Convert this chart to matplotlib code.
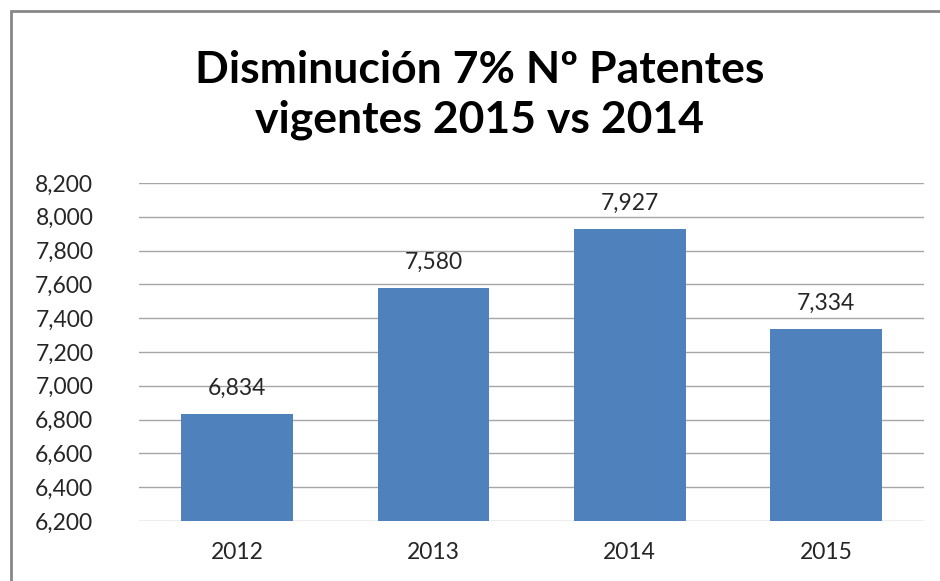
import matplotlib.pyplot as plt
from matplotlib.patches import Rectangle
import numpy as np

years = ['2012', '2013', '2014', '2015']
patentes = [6834, 7580, 7927, 7334]
yticks = [6200, 6400, 6600, 6800, 7000, 7200, 7400, 7600, 7800, 8000, 8200]

plt.rcParams['font.family'] = ['Lato', 'DejaVu Sans']

fig = plt.figure(figsize=(9.4, 5.81), dpi=100)
ax = fig.add_axes([0.148, 0.1033, 0.835, 0.5817])

index = np.arange(len(years))
bars = ax.bar(index, patentes, 0.57, color='#4F81BD', bottom=0, zorder=3)
ax.set_ylim(6200, 8200)
ax.set_xlim(-0.5, len(years) - 0.5)
ax.set_yticks(yticks)
ax.set_yticklabels(['{:,}'.format(v) for v in yticks])
ax.set_xticks(index, years)
ax.grid(axis='y', color='#A6A6A6', linewidth=1.0, zorder=0)
for s in ax.spines.values():
    s.set_visible(False)
ax.tick_params(axis='both', length=0, labelsize=16.5, colors='#262626')
ax.tick_params(axis='y', pad=33)
ax.tick_params(axis='x', pad=15)

# value labels above the bars
for x, v in zip(index, patentes):
    ax.annotate('{:,}'.format(v), (x, v), xytext=(0, 11), textcoords='offset points',
                ha='center', va='bottom', fontsize=16.5, color='#262626')

fig.text(0.51, 0.836, 'Disminución 7% Nº Patentes\nvigentes 2015 vs 2014',
         ha='center', va='center', fontsize=32, fontweight='bold',
         linespacing=1.3, color='black')

# chart frame (only left/top edges visible in the crop)
fig.patches.append(Rectangle((11 / 940, -0.1), 1.2, 1 - 11 / 581 + 0.1,
                             transform=fig.transFigure, fill=False,
                             edgecolor='#878787', linewidth=2))

fig.savefig('out.png', dpi=100)
